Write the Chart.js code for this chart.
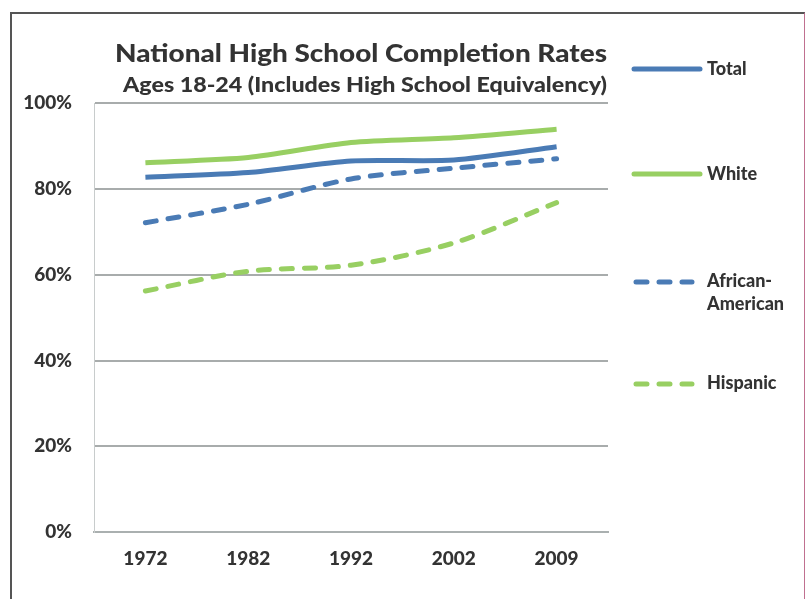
<!DOCTYPE html>
<html><head><meta charset="utf-8">
<script src="https://cdn.jsdelivr.net/npm/chart.js@4"></script>
<style>
html,body{margin:0;padding:0;background:#fff;}
#wrap{position:absolute;left:0;top:0;width:806px;height:599px;}
#frame{position:absolute;left:10px;top:12px;width:792px;height:600px;border-left:2px solid #555;border-top:2px solid #555;border-right:1px solid #c07090;}
canvas{position:absolute;left:0;top:0;}
</style></head>
<body><div id="wrap"><div id="frame"></div><canvas id="c" width="806" height="599"></canvas></div>
<script>
const years = ['1972','1982','1992','2002','2009'];
const totalRates = [82.7, 83.8, 86.5, 86.7, 89.8];
const whiteRates = [86.1, 87.3, 90.8, 91.9, 93.9];
const africanAmericanRates = [72.1, 76.4, 82.3, 84.8, 87.0];
const hispanicRates = [56.2, 60.8, 62.2, 67.4, 76.8];
const yTicks = [0, 20, 40, 60, 80, 100];
const titleText = 'National High School Completion Rates';
const subtitleText = 'Ages 18-24 (Includes High School Equivalency)';

const BLUE = '#4a7bb5', GREEN = '#98cf62';
const FONT = 'Lato, "Open Sans", sans-serif';

function fitText(ctx, text, cx, baseline, width, font) {
  ctx.save();
  ctx.font = font;
  const w = ctx.measureText(text).width;
  ctx.translate(cx, baseline);
  ctx.scale(width / w, 1);
  ctx.textAlign = 'center';
  ctx.textBaseline = 'alphabetic';
  ctx.fillText(text, 0, 0);
  ctx.restore();
}

const titlePlugin = {
  id: 'customTitle',
  afterDraw(chart) {
    const ctx = chart.ctx;
    ctx.save();
    ctx.fillStyle = '#333';
    fitText(ctx, titleText, 361, 62, 492, '900 24px ' + FONT);
    fitText(ctx, subtitleText, 365, 92, 484, '900 20px ' + FONT);
    ctx.restore();
  }
};

const legendPlugin = {
  id: 'sideLegend',
  afterDraw(chart) {
    const ctx = chart.ctx;
    const rows = [
      {y: 69, lines: ['Total']},
      {y: 174, lines: ['White']},
      {y: 281, lines: ['African-', 'American']},
      {y: 383, lines: ['Hispanic']}
    ];
    chart.data.datasets.forEach((ds, i) => {
      const r = rows[i];
      ctx.save();
      ctx.strokeStyle = ds.borderColor;
      ctx.lineWidth = 5;
      ctx.lineCap = 'round';
      const dashed = ds.borderDash && ds.borderDash.length;
      ctx.setLineDash(dashed ? [11, 12] : []);
      ctx.beginPath();
      if (dashed) { ctx.moveTo(636, r.y + 1); ctx.lineTo(692, r.y + 1); }
      else { ctx.moveTo(634, r.y); ctx.lineTo(700, r.y); }
      ctx.stroke();
      ctx.setLineDash([]);
      ctx.fillStyle = '#333';
      ctx.font = '900 18px ' + FONT;
      ctx.textBaseline = 'middle';
      r.lines.forEach((t, k) => ctx.fillText(t, 707, r.y + k * 23));
      ctx.restore();
    });
  }
};

new Chart(document.getElementById('c'), {
  type: 'line',
  data: {
    labels: years,
    datasets: [
      {label: 'Total', data: totalRates, borderColor: BLUE, borderWidth: 5, tension: 0.25},
      {label: 'White', data: whiteRates, borderColor: GREEN, borderWidth: 5, tension: 0.25},
      {label: 'African-American', data: africanAmericanRates, borderColor: BLUE, borderWidth: 5, borderDash: [11, 12], borderCapStyle: 'round', tension: 0.3},
      {label: 'Hispanic', data: hispanicRates, borderColor: GREEN, borderWidth: 5, borderDash: [11, 12], borderCapStyle: 'round', tension: 0.3}
    ]
  },
  options: {
    responsive: false,
    animation: false,
    layout: {padding: {left: 0, right: 198, top: 103, bottom: 14}},
    elements: {point: {radius: 0}},
    plugins: {
      legend: {display: false},
      tooltip: {enabled: false},
      title: {display: false},
      subtitle: {display: false}
    },
    scales: {
      x: {
        offset: true,
        grid: {display: false, drawTicks: false},
        border: {color: '#aab0b0', width: 2},
        ticks: {color: '#333', font: {family: FONT, size: 19, weight: '900'}, padding: 15}
      },
      y: {
        min: 0, max: 100,
        afterBuildTicks(axis) { axis.ticks = yTicks.map(v => ({value: v})); },
        afterFit(axis) { axis.width = 94; },
        grid: {color: '#a8acac', lineWidth: 2, drawTicks: false},
        border: {color: '#c8cccc', width: 1},
        ticks: {color: '#333', font: {family: FONT, size: 19, weight: '900'}, padding: 22, callback: v => v + '%'}
      }
    }
  },
  plugins: [titlePlugin, legendPlugin]
});
</script></body></html>
